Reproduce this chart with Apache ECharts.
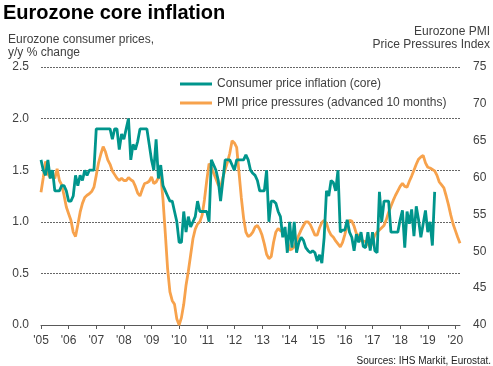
<!DOCTYPE html>
<html><head><meta charset="utf-8">
<script src="https://cdn.jsdelivr.net/npm/echarts@6/dist/echarts.min.js"></script>
<style>html,body{margin:0;padding:0;background:#fff}#c{width:493px;height:366px}</style>
</head><body><div id="c"></div>
<script>
// Monthly categories Jan 2005 .. Mar 2020
const firstYear = 2005;
const monthCount = 183;
const months = [];
for (let i = 0; i < monthCount; i++) {
  const y = firstYear + Math.floor(i / 12), m = (i % 12) + 1;
  months.push(y + '-' + (m < 10 ? '0' + m : m));
}
// Eurozone core consumer price inflation, y/y %
const coreInflation = [
 1.6,1.5,1.45,1.6,1.42,1.5,1.3,1.3,1.3,1.35,1.35,1.3,
 1.2,1.2,1.25,1.45,1.35,1.45,1.4,1.5,1.45,1.5,1.5,1.5,
 1.9,1.9,1.9,1.9,1.9,1.9,1.9,1.8,1.9,1.9,1.7,1.85,
 1.8,1.9,2.0,1.6,1.75,1.7,1.78,1.9,1.9,1.9,1.9,1.75,
 1.6,1.5,1.8,1.42,1.55,1.35,1.3,1.25,1.2,1.2,1.1,1.0,
 0.8,0.8,1.1,0.9,1.05,0.95,1.0,1.05,1.2,1.1,1.1,1.1,
 1.1,1.0,1.6,1.55,1.5,1.4,1.2,1.4,1.6,1.6,1.6,1.55,
 1.5,1.6,1.6,1.6,1.6,1.65,1.6,1.5,1.47,1.45,1.4,1.3,
 1.3,1.3,1.5,1.0,1.2,1.2,1.18,1.1,1.05,0.85,0.95,0.7,
 1.0,0.75,1.0,0.7,0.8,0.85,0.82,0.75,0.72,0.7,0.72,0.7,
 0.62,0.68,0.6,0.85,1.3,1.25,1.4,1.38,1.3,1.5,0.9,0.92,
 0.92,1.02,0.9,0.85,0.72,0.88,0.8,0.9,0.76,0.75,0.9,0.72,
 0.9,0.72,0.7,1.29,1.0,1.2,1.2,1.2,0.9,0.9,0.9,0.9,
 1.02,1.11,0.75,1.1,0.98,1.12,0.86,1.15,1.02,0.85,0.98,1.11,
 0.9,1.0,0.77,1.29
];
// PMI price pressures index (advanced 10 months)
const pmiPrices = [
 58.0,60.0,62.2,60.5,60.0,60.3,59.9,61.2,59.6,59.0,57.6,56.0,
 55.1,54.2,52.6,52.0,53.6,55.3,56.5,57.3,57.6,57.8,58.1,58.7,
 60.3,62.0,63.2,64.2,63.5,62.4,61.8,60.9,60.4,59.9,59.6,59.9,
 59.6,59.6,60.0,59.7,59.5,58.8,57.9,57.5,58.4,59.2,59.3,59.5,
 60.1,59.2,59.4,60.0,60.4,57.0,52.4,47.6,44.5,43.3,42.8,40.8,
 40.0,41.0,42.8,45.4,47.3,49.5,51.7,53.0,53.7,54.0,54.9,57.0,
 59.6,61.9,61.4,60.6,59.8,59.0,58.7,60.0,61.1,62.1,63.3,65.0,
 64.7,64.1,60.7,57.3,54.5,52.6,52.0,52.2,52.6,53.3,53.5,53.0,
 52.2,51.0,49.6,49.0,49.3,51.2,52.6,53.1,52.8,52.6,52.2,51.5,
 50.2,50.3,50.6,51.4,52.2,52.9,53.5,54.0,54.0,53.6,52.9,52.2,
 52.2,53.2,53.9,54.2,53.8,52.8,52.2,51.9,51.4,51.0,50.6,51.2,
 52.3,53.5,54.2,54.1,53.4,52.4,52.1,51.4,51.4,51.3,51.0,50.5,
 51.3,52.2,52.6,52.9,53.2,53.5,54.3,55.3,56.1,56.9,57.6,58.2,
 58.8,59.2,58.8,58.7,59.5,60.2,61.0,61.8,62.5,62.8,63.0,62.0,
 61.4,61.3,61.1,60.9,60.3,59.4,59.0,58.6,57.5,56.3,54.9,53.7,
 52.8,51.9,51.1
];
const seriesNames = ['Consumer price inflation (core)', 'PMI price pressures (advanced 10 months)'];
const leftAxis = {min: 0, max: 2.5, step: 0.5};
const rightAxis = {min: 40, max: 75, step: 5};
const titleText = 'Eurozone core inflation';
const leftAxisTitle = ['Eurozone consumer prices,', 'y/y % change'];
const rightAxisTitle = ['Eurozone PMI', 'Price Pressures Index'];
const sourceText = 'Sources: IHS Markit, Eurostat.';

const FONT = '"Liberation Sans", Arial, sans-serif';
const TXT = '#404040';
const TEAL = '#00958c';
const ORANGE = '#f7a24c';

const chart = echarts.init(document.getElementById('c'), null, {renderer: 'canvas'});
chart.setOption({
  backgroundColor: '#fff',
  animation: false,
  textStyle: {fontFamily: FONT},
  grid: {left: 41, right: 33, top: 67, bottom: 41},
  graphic: [
    {type: 'text', x: 3, y: 13, style: {text: titleText, font: 'bold 20px ' + FONT, fill: '#000', textVerticalAlign: 'middle'}},
    {type: 'text', x: 8, y: 40, style: {text: leftAxisTitle[0], font: '12px ' + FONT, fill: TXT, textVerticalAlign: 'middle'}},
    {type: 'text', x: 8, y: 53, style: {text: leftAxisTitle[1], font: '12px ' + FONT, fill: TXT, textVerticalAlign: 'middle'}},
    {type: 'text', x: 490, y: 32, style: {text: rightAxisTitle[0], font: '12px ' + FONT, fill: TXT, textAlign: 'right', textVerticalAlign: 'middle'}},
    {type: 'text', x: 490, y: 45, style: {text: rightAxisTitle[1], font: '12px ' + FONT, fill: TXT, textAlign: 'right', textVerticalAlign: 'middle'}},
    {type: 'text', x: 491, y: 361, style: {text: sourceText, font: '10px ' + FONT, fill: '#222', textAlign: 'right', textVerticalAlign: 'middle'}}
  ],
  legend: {
    data: seriesNames,
    orient: 'vertical',
    left: 175, top: 73,
    icon: 'rect', itemWidth: 32, itemHeight: 3, itemGap: 7,
    textStyle: {fontSize: 12, color: TXT, fontFamily: FONT}
  },
  xAxis: {
    type: 'category', data: months, boundaryGap: false,
    axisLine: {lineStyle: {color: '#595959', width: 1}},
    axisTick: {interval: (i) => i % 12 === 0, length: 4, lineStyle: {color: '#595959'}},
    axisLabel: {interval: (i) => i % 12 === 0, formatter: (v) => "'" + v.slice(2, 4), fontSize: 12, color: TXT, margin: 10},
    splitLine: {show: false}
  },
  yAxis: [
    {type: 'value', min: leftAxis.min, max: leftAxis.max, interval: leftAxis.step,
     axisLine: {show: false}, axisTick: {show: false},
     axisLabel: {formatter: (v) => v.toFixed(1), fontSize: 12, color: TXT, margin: 12},
     splitLine: {show: true, lineStyle: {color: '#666', type: [2, 1], width: 1}}},
    {type: 'value', min: rightAxis.min, max: rightAxis.max, interval: rightAxis.step, position: 'right',
     axisLine: {show: false}, axisTick: {show: false},
     axisLabel: {fontSize: 12, color: TXT, margin: 13},
     splitLine: {show: false}}
  ],
  series: [
    {name: seriesNames[1], type: 'line', yAxisIndex: 1, data: pmiPrices, showSymbol: false, z: 2,
     itemStyle: {color: ORANGE}, lineStyle: {color: ORANGE, width: 2.8}},
    {name: seriesNames[0], type: 'line', yAxisIndex: 0, data: coreInflation, showSymbol: false, z: 3,
     itemStyle: {color: TEAL}, lineStyle: {color: TEAL, width: 2.8}}
  ]
});
</script></body></html>
